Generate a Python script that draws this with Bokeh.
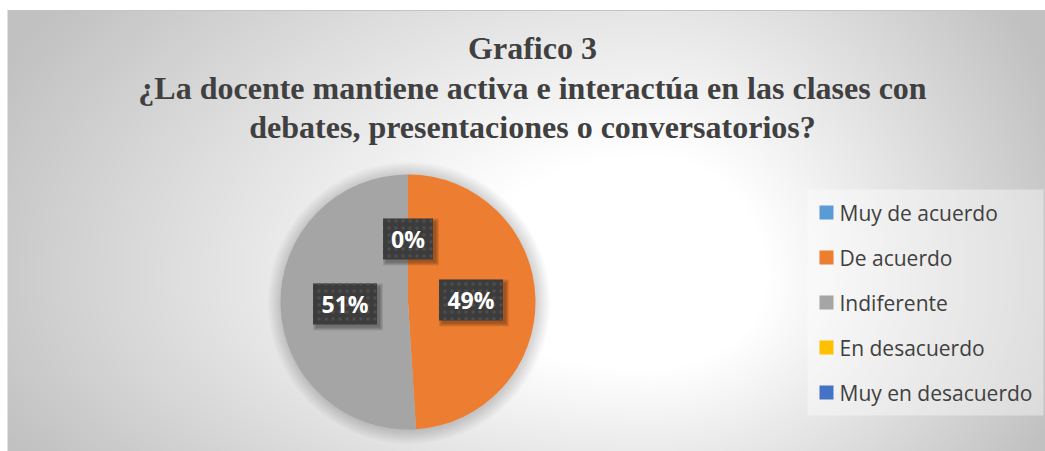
import numpy as np
from bokeh.plotting import figure
from bokeh.models import Range1d, ColumnDataSource, CDSView, BooleanFilter
from bokeh.core.properties import value
from bokeh.embed import file_html
from bokeh.resources import INLINE

# ---- data ----
title_lines = [
    "Grafico 3",
    "¿La docente mantiene activa e interactúa en las clases con",
    "debates, presentaciones o conversatorios?",
]
categories = ["Muy de acuerdo", "De acuerdo", "Indiferente", "En desacuerdo", "Muy en desacuerdo"]
values = [0, 49, 51, 0, 0]
colors = ["#5B9BD5", "#ED7D31", "#A5A5A5", "#FFC000", "#4472C4"]

W, H = 1045, 451


def sy(y):
    return H - y


p = figure(width=W, height=H, x_range=Range1d(0, W), y_range=Range1d(0, H),
           output_backend="svg", toolbar_location=None, min_border=0,
           x_axis_location=None, y_axis_location=None,
           outline_line_color=None, background_fill_color="white",
           border_fill_color="white")
p.grid.visible = False

# ---- chart-area background: radial gradient (style) ----
bx0, by0, bw, bh = 7, 10, 1038, 441
nx, ny = 519, 221
gx = bx0 + (np.arange(nx) + 0.5) * bw / nx
gy = by0 + (np.arange(ny) + 0.5) * bh / ny
GX, GY = np.meshgrid(gx, gy)
cx, cy = 650.0, 280.0
dx = np.where(GX < cx, (GX - cx) / 640.0, (GX - cx) / 390.0)
dy = np.where(GY < cy, (GY - cy) / 420.0, (GY - cy) / 300.0)
d = np.sqrt(dx ** 2 + dy ** 2)
v = np.clip(255 - 74 * (d - 0.3), 193, 255).astype(np.uint8)
img = np.empty((ny, nx), dtype=np.uint32)
view = img.view(dtype=np.uint8).reshape((ny, nx, 4))
view[..., 0] = v
view[..., 1] = v
view[..., 2] = v
view[..., 3] = 255
img = img[::-1].copy()
p.image_rgba(image=[img], x=bx0, y=sy(by0 + bh), dw=bw, dh=bh)
p.segment(x0=[bx0], y0=[sy(by0)], x1=[W], y1=[sy(by0)], line_color="#c4c4c4", line_width=1)

# ---- pie ----
pcx, pcy, R = 407.5, sy(301.5), 127.5

# soft shadow around the pie
for k in range(14, 0, -1):
    p.circle(x=[pcx + 1], y=[pcy - 1], radius=R + k, fill_color="black",
             fill_alpha=0.011, line_color=None)

total = float(sum(values))
fracs = np.array(values) / total
cum = np.concatenate([[0.0], np.cumsum(fracs)])
start = np.pi / 2 - 2 * np.pi * cum[:-1]
end = np.pi / 2 - 2 * np.pi * cum[1:]
src = ColumnDataSource(dict(cat=categories, val=values, color=colors, start=start, end=end))
view_nz = CDSView(filter=BooleanFilter([val > 0 for val in values]))
p.wedge(x=pcx, y=pcy, radius=R, start_angle="start", end_angle="end",
        direction="clock", fill_color="color", line_color=None,
        source=src, view=view_nz)

# ---- data labels ----
mid = (start + end) / 2
lr = 63.0
lx, ly, lt = [], [], []
seen = set()
for i, val in enumerate(values):
    x = pcx + lr * np.cos(mid[i])
    y = pcy + lr * np.sin(mid[i])
    key = (round(x), round(y))
    if key in seen:
        continue
    seen.add(key)
    lx.append(x)
    ly.append(y)
    lt.append(f"{round(val / total * 100)}%")
lw = [22 + 14 * len(t) for t in lt]
lh = [41] * len(lt)

for k in [1, 2, 3, 4]:
    p.rect(x=[x + 3 for x in lx], y=[y - 3 for y in ly],
           width=[w + 2 * k - 2 for w in lw], height=[h + 2 * k - 2 for h in lh],
           fill_color="black", fill_alpha=0.09, line_color=None)
p.rect(x=lx, y=ly, width=lw, height=lh, fill_color="#3c3c3c", line_color=None,
       hatch_pattern="dot", hatch_color="#4e4e4e", hatch_scale=7, hatch_weight=1)
p.text(x=lx, y=ly, text=lt, text_font=value("Open Sans"), text_font_style="bold",
       text_font_size="23px", text_color="white", text_align="center",
       text_baseline="middle")

# ---- title ----
p.text(x=[532, 532, 532], y=[sy(47), sy(87), sy(126)], text=title_lines,
       text_font=value("Liberation Serif"), text_font_style="bold",
       text_font_size="32px", text_color="#404040", text_align="center",
       text_baseline="alphabetic")

# ---- legend ----
p.quad(left=[807], right=[1043], top=[sy(189)], bottom=[sy(415)],
       fill_color="white", fill_alpha=0.4, line_color=None)
leg_y = [sy(212 + 45 * i) for i in range(len(categories))]
p.rect(x=[826] * len(categories), y=leg_y, width=14, height=14,
       fill_color=colors, line_color=None)
p.text(x=[839] * len(categories), y=leg_y, text=categories,
       text_font=value("Open Sans"), text_font_size="21px",
       text_color="#404040", text_align="left", text_baseline="middle")

open("out.html", "w").write(file_html(p, INLINE))
